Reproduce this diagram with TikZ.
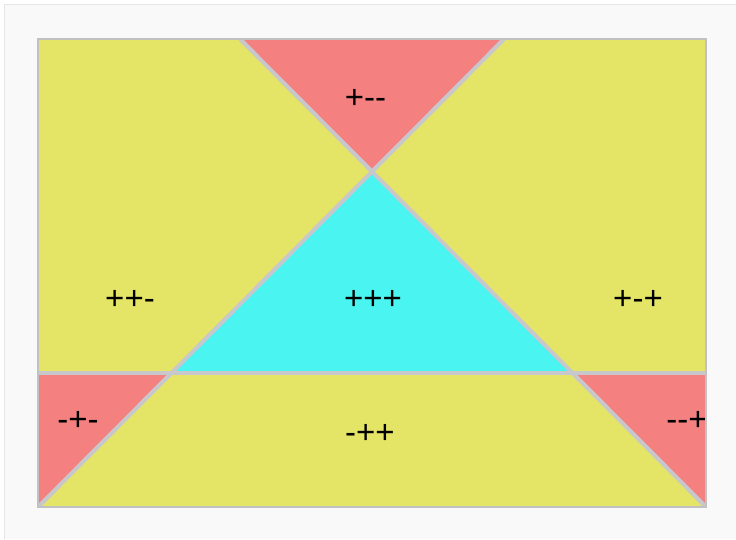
\documentclass[tikz,border=0pt]{standalone}
\usepackage{fontspec}
\setmainfont{Liberation Sans}
\definecolor{yel}{HTML}{E4E466}
\definecolor{redr}{HTML}{F48080}
\definecolor{cyn}{HTML}{4AF4F0}
\definecolor{sep}{HTML}{C8C8CC}
\definecolor{panel}{HTML}{F9F9F9}
\definecolor{panelline}{HTML}{E6E6E6}
\begin{document}
\begin{tikzpicture}[x=1pt,y=-1pt,
  sepline/.style={draw=sep,line width=4pt},
  lbl/.style={font=\fontsize{33}{36}\selectfont,text=black,inner sep=0pt}]
\useasboundingbox (0,0) rectangle (736,539);
\fill[white] (0,0) rectangle (736,539);
\fill[panel] (4,4) rectangle (736,539);
\draw[panelline,line width=1.5pt] (4.5,539) -- (4.5,4.5) -- (736,4.5);
% named corners
\coordinate (TL) at (38,39);
\coordinate (TR) at (706,39);
\coordinate (BR) at (706,507);
\coordinate (BL) at (38,507);
\coordinate (A) at (240,39);
\coordinate (B) at (504,39);
\coordinate (X) at (372,171);
\coordinate (HL) at (38,373);
\coordinate (HR) at (706,373);
\coordinate (P) at (170,373);
\coordinate (Q) at (574,373);
\begin{scope}
\clip (TL) rectangle (BR);
\fill[yel] (TL) rectangle (BR);
\fill[redr] (A) -- (B) -- (X) -- cycle;
\fill[cyn] (X) -- (P) -- (Q) -- cycle;
\fill[redr] (HL) -- (P) -- (BL) -- cycle;
\fill[redr] (Q) -- (HR) -- (BR) -- cycle;
\draw[sepline] (A) -- (BR);
\draw[sepline] (B) -- (BL);
\draw[sepline] (HL) -- (HR);
\node[lbl] (n1) at (365.5,99) {+{-}{-}};
\node[lbl] (n2) at (130,300) {++{-}};
\node[lbl] (n3) at (373,300) {+++};
\node[lbl] (n4) at (638,300) {+{-}+};
\node[lbl] (n5) at (78,421) {{-}+{-}};
\node[lbl] (n6) at (370,434) {{-}++};
\node[lbl] (n7) at (687,421) {{-}{-}+};
\end{scope}
\draw[draw=sep!90!gray,line width=1.5pt] (TL) rectangle (BR);
\end{tikzpicture}
\end{document}
